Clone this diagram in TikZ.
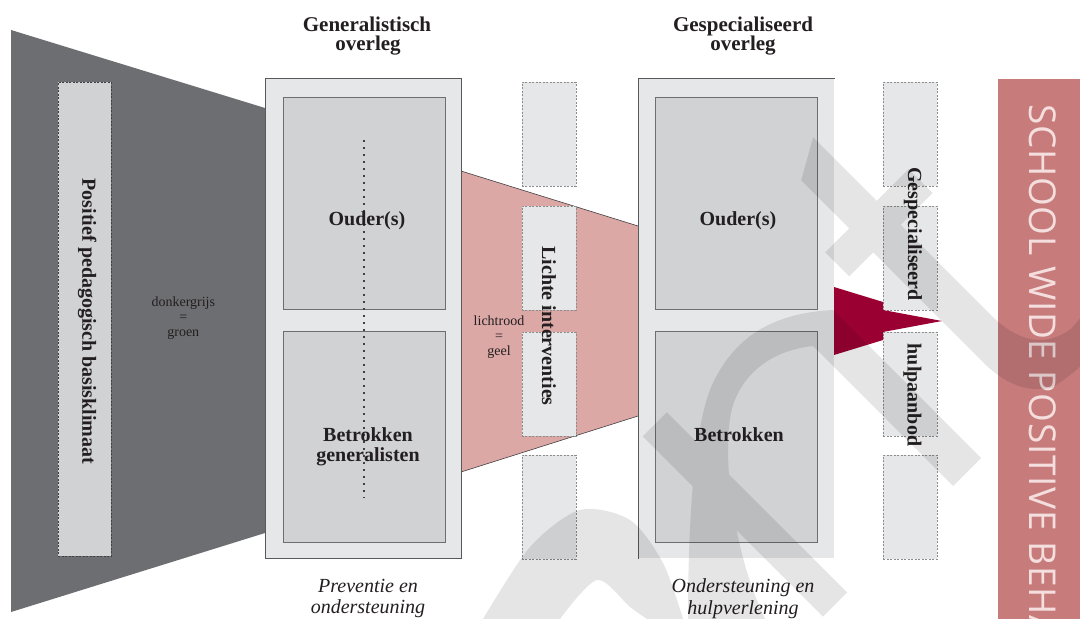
\documentclass[tikz,border=0pt]{standalone}
\usepackage{fontspec}
\setmainfont{Liberation Serif}
\newfontfamily\barfont[LetterSpace=2]{Open Sans}
\definecolor{dgray}{HTML}{6D6E71}
\definecolor{obox}{HTML}{E6E7E8}
\definecolor{ibox}{HTML}{D1D2D4}
\definecolor{bord}{HTML}{58595B}
\definecolor{ibord}{HTML}{6D6E71}
\definecolor{pinkz}{HTML}{DCA8A6}
\definecolor{wine}{HTML}{9B0032}
\definecolor{barc}{HTML}{C77B7B}
\definecolor{bartxt}{HTML}{F4DEDE}
\definecolor{txt}{HTML}{231F20}
\definecolor{dashc}{HTML}{8A8C8E}
\definecolor{edgec}{HTML}{414042}
\begin{document}
\begin{tikzpicture}[x=1pt,y=-1pt,
  title/.style={font=\fontsize{21}{20}\selectfont\bfseries, text=txt, inner sep=0pt, anchor=base},
  lbl/.style={font=\fontsize{20}{20}\selectfont\bfseries, text=txt, inner sep=0pt},
  note/.style={font=\fontsize{14}{15}\selectfont, text=txt, inner sep=0pt, anchor=base},
  capt/.style={font=\fontsize{20}{20}\selectfont\itshape, text=txt, inner sep=0pt, anchor=base},
  outerbox/.style={fill=obox, draw=bord, line width=.8pt, inner sep=0pt, anchor=north west, minimum width=196pt, minimum height=480pt},
  innerbox/.style={fill=ibox, draw=ibord, line width=1pt, inner sep=0pt, anchor=north west, minimum width=162pt},
  dbox/.style={fill=obox, draw=dashc, line width=.6pt, dash pattern=on 2pt off 1.5pt, inner sep=0pt, anchor=north west, minimum width=54pt, minimum height=104pt},
  wm/.style={fill=black},
]
\useasboundingbox (0,0) rectangle (1080,619);
\fill[white] (0,0) rectangle (1080,619);

% dark grey funnel
\fill[dgray] (11,30) -- (265,108) -- (265,533) -- (11,612) -- cycle;
\node[fill=ibox, draw=edgec, line width=.6pt, dash pattern=on 2pt off 1.5pt, inner sep=0pt, anchor=north west, minimum width=53pt, minimum height=474pt] (posbox) at (58,82) {};
\node[lbl, rotate=-90] (poslbl) at (87.2,321.5) {Positief pedagogisch basisklimaat};
\node[note] (n1a) at (183.3,306.7) {donkergrijs};
\node[note] (n1b) at (183.3,321.3) {=};
\node[note] (n1c) at (183.3,336.5) {groen};

% light red funnel
\fill[pinkz] (461,171) -- (638,226) -- (638,416) -- (461,472) -- cycle;
\draw[edgec, line width=.6pt] (461,171) -- (638,226);
\draw[edgec, line width=.6pt] (461,472) -- (638,416);

% generalistisch overleg
\node[outerbox] (genbox) at (265,78) {};
\node[innerbox, minimum height=212pt] (gen1) at (283,97) {};
\node[innerbox, minimum height=211pt] (gen2) at (283,331) {};
\coordinate (dtop) at (364,140);
\coordinate (dbot) at (364,498);
\draw[edgec, line width=1.5pt, dash pattern=on 2pt off 5pt] (dtop) -- (dbot);
\node[lbl, anchor=base] (g1) at (367,225.5) {Ouder(s)};
\node[lbl, anchor=base] (g2) at (368,441) {Betrokken};
\node[lbl, anchor=base] (g3) at (368,461.5) {generalisten};

% column of dashed boxes 1
\node[dbox] (c1a) at (521.5,82) {};
\node[dbox] (c1b) at (521.5,206) {};
\node[dbox] (c1c) at (521.5,332) {};
\node[dbox] (c1d) at (521.5,455) {};
\node[lbl, rotate=-90] (lichte) at (549,326) {Lichte interventies};
\node[note] (n2a) at (499,325) {lichtrood};
\node[note] (n2b) at (499,340) {=};
\node[note] (n2c) at (499,355) {geel};

% gespecialiseerd overleg
\node[outerbox, draw=none] (specbox) at (638,78) {};
\draw[bord, line width=.8pt] (specbox.south west) -- (specbox.north west) -- (specbox.north east);
\node[innerbox, minimum height=212pt] (spec1) at (655,97) {};
\node[innerbox, minimum height=211pt] (spec2) at (655,331) {};
\node[lbl, anchor=base] (s1) at (738,225) {Ouder(s)};
\node[lbl, anchor=base] (s2) at (739,441.5) {Betrokken};

% column of dashed boxes 2
\node[dbox] (c2a) at (883,82) {};
\node[dbox] (c2b) at (883,206) {};
\node[dbox] (c2c) at (883,332) {};
\node[dbox] (c2d) at (883,455) {};
\node[lbl, rotate=-90] (gesp) at (913,234) {Gespecialiseerd};
\node[lbl, rotate=-90] (hulp) at (912.5,395) {hulpaanbod};

% dark red arrow
\fill[wine] (834,287) -- (883,302) -- (883,310) -- (942,321) -- (883,332) -- (883,340) -- (834,355) -- cycle;

% titles and captions
\node[title] (t1a) at (367,31) {Generalistisch};
\node[title] (t1b) at (368,50.5) {overleg};
\node[title] (t2a) at (743,31) {Gespecialiseerd};
\node[title] (t2b) at (743,50.5) {overleg};
\node[capt] (c1) at (368,592.7) {Preventie en};
\node[capt] (c2) at (368,613.5) {ondersteuning};
\node[capt] (c3) at (743,592.7) {Ondersteuning en};
\node[capt] (c4) at (743,614) {hulpverlening};

% side bar
\begin{scope}
\clip (998,79) rectangle (1080,619);
\fill[barc] (998,79) rectangle (1082,621);
\node[rotate=-90, anchor=west, inner sep=0pt, font=\barfont\fontsize{37}{37}\selectfont, text=bartxt] (swpb) at (1043,104) {SCHOOL WIDE POSITIVE BEHA};
\end{scope}

% watermark
\begin{scope}[transparency group, opacity=.1]
\clip (0,0) rectangle (1080,619);
\fill[wm] plot[smooth] coordinates {(483,619) (530,547) (580,510) (630,520) (663,563) (683,619)} -- plot[smooth] coordinates {(647,619) (630,607) (597,580) (560,619)} -- cycle;
\fill[wm] (688,619) .. controls (688,540) and (692,430) .. (712,385) .. controls (735,335) and (775,313) .. (833,310) -- (981,458) -- (953,486) -- (813,346) .. controls (775,350) and (745,370) .. (733,405) .. controls (722,440) and (728,540) .. (765,619) -- cycle;
\begin{scope}[rotate=45]
\fill[wm] (146,1018) -- (146,763) -- (180,763) -- (180,1018) -- cycle;
\fill[wm] (439,694) -- (478,672) -- (478,930) .. controls (480,965) and (495,985) .. (525,990) -- (580,985) -- (580,1018) .. controls (530,1025) and (500,1025) .. (470,1018) .. controls (450,1005) and (439,985) .. (439,950) -- cycle;
\fill[wm] (405,762) -- (523,762) -- (523,796) -- (405,796) -- cycle;
\end{scope}
\end{scope}
\end{tikzpicture}
\end{document}
